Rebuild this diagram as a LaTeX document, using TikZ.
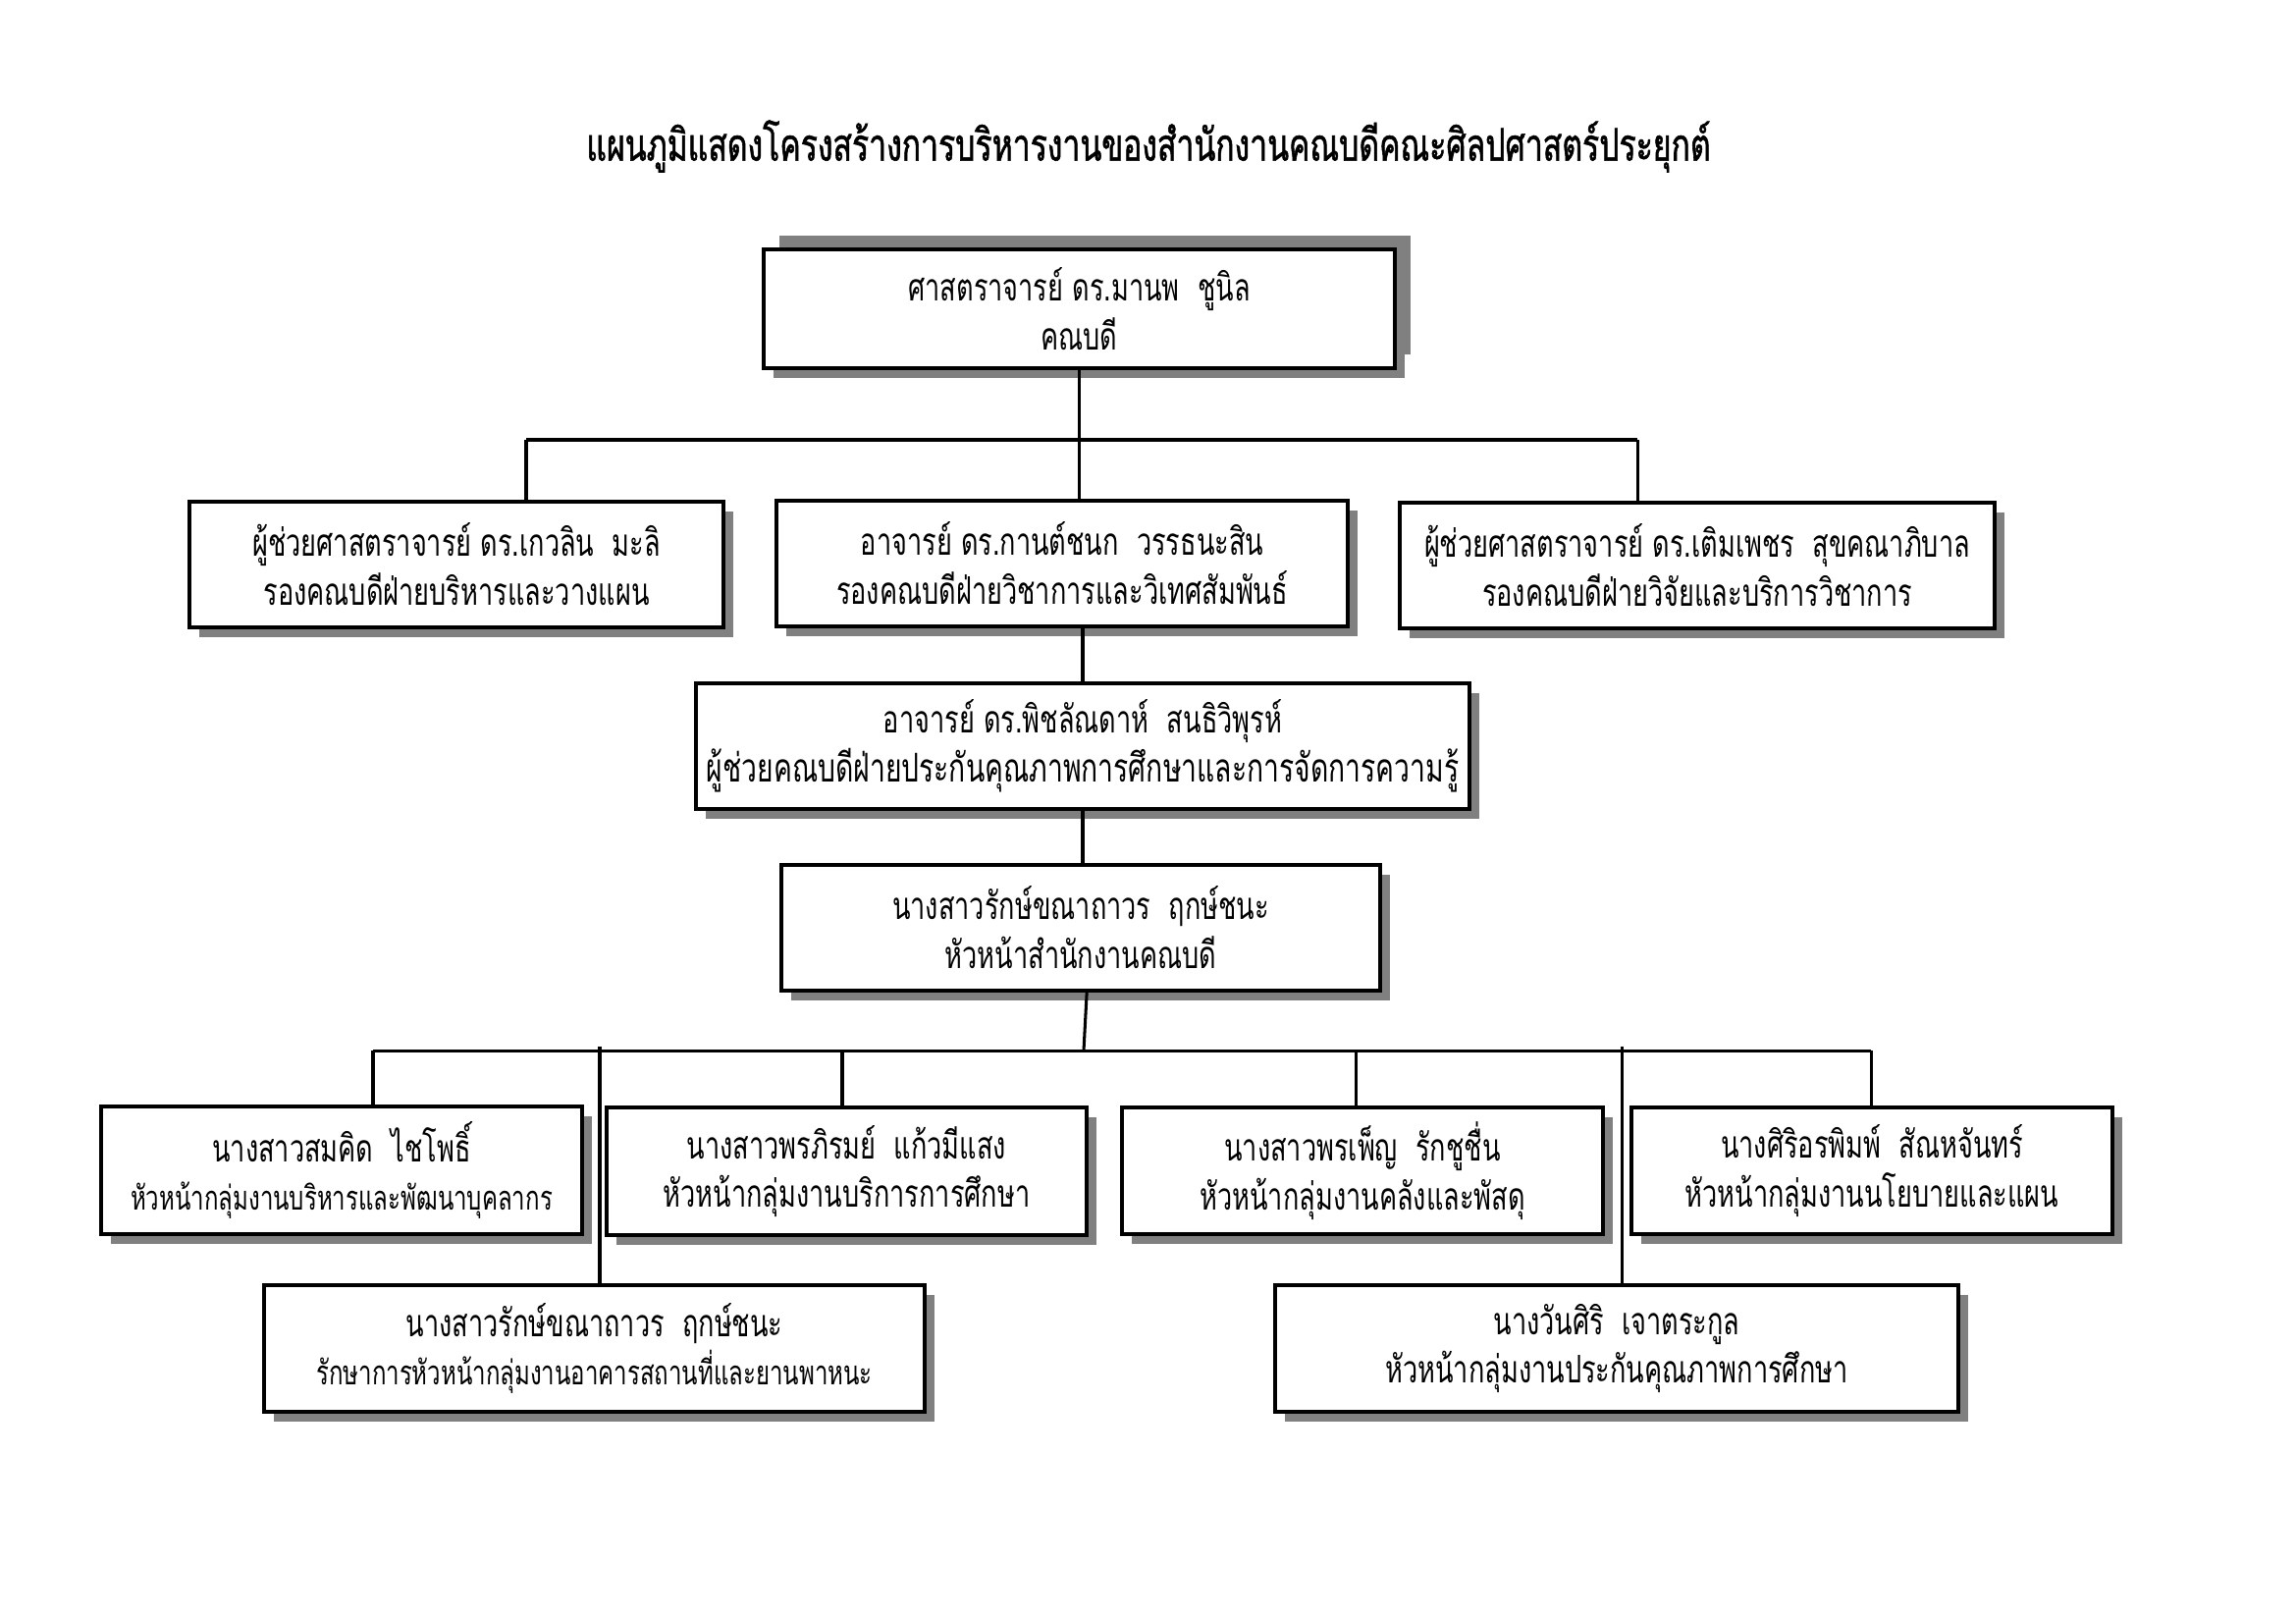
\documentclass[tikz,border=0pt]{standalone}
\usepackage{fontspec}
\newfontfamily\thai[Script=Thai,FakeStretch=0.7]{Loma}
\newfontfamily\thaib[Script=Thai,FakeStretch=0.7,FakeBold=1.2]{Loma}
\usetikzlibrary{shadows}
\tikzset{
  orgbox/.style n args={4}{draw, line width=1.3pt, fill=white, align=center,
    inner sep=0pt,
    minimum width=(#2-#1)*0.127mm, minimum height=(#4-#3)*0.127mm,
    font=\thai\fontsize{14}{18}\selectfont,
    drop shadow={shadow xshift=1.3mm, shadow yshift=-1.3mm, fill=black!50, opacity=1}},
  topbox/.style={drop shadow={shadow xshift=2mm, shadow yshift=1.8mm, fill=black!50, opacity=1}},
  conn/.style={line width=1.1pt}
}
\newcommand{\boxat}[5]{\node[orgbox={#1}{#2}{#3}{#4},#5] at ({(#1+#2)/2},{(#3+#4)/2})}
\newcommand{\fs}[1]{\fontsize{#1}{18}\selectfont}
\begin{document}
\begin{tikzpicture}[x=0.127mm,y=-0.127mm]
\useasboundingbox (0,0) rectangle (2339,1646);
\fill[white] (0,0) rectangle (2339,1646);
\node[font=\thaib\fontsize{16.5}{20}\selectfont] (title) at (1170,149) {แผนภูมิแสดงโครงสร้างการบริหารงานของสำนักงานคณบดีคณะศิลปศาสตร์ประยุกต์};

\coordinate (b1L) at (536,448);
\coordinate (b1R) at (1668,448);
\coordinate (b2L) at (380,1070);
\coordinate (b2R) at (1906,1070);

\boxat{778}{1421}{254}{375}{topbox} (A) {ศาสตราจารย์ ดร.มานพ~~ชูนิล\\คณบดี};
\boxat{193}{737}{511}{639}{} (B) {ผู้ช่วยศาสตราจารย์ ดร.เกวลิน~~มะลิ\\รองคณบดีฝ่ายบริหารและวางแผน};
\boxat{791}{1373}{510}{638}{} (C) {อาจารย์ ดร.กานต์ชนก~~วรรธนะสิน\\รองคณบดีฝ่ายวิชาการและวิเทศสัมพันธ์};
\boxat{1426}{2032}{512}{640}{} (D) {ผู้ช่วยศาสตราจารย์ ดร.เติมเพชร~~สุขคณาภิบาล\\รองคณบดีฝ่ายวิจัยและบริการวิชาการ};
\boxat{709}{1497}{696}{824}{} (E) {อาจารย์ ดร.พิชลัณดาห์~~สนธิวิพุรห์\\{\fs{14.6}ผู้ช่วยคณบดีฝ่ายประกันคุณภาพการศึกษาและการจัดการความรู้}};
\boxat{796}{1406}{881}{1009}{} (F) {นางสาวรักษ์ขณาถาวร~~ฤกษ์ชนะ\\หัวหน้าสำนักงานคณบดี};
\boxat{103}{593}{1127}{1257}{} (G) {นางสาวสมคิด~~ไชโพธิ์\\{\fs{12.4}หัวหน้ากลุ่มงานบริหารและพัฒนาบุคลากร}};
\boxat{618}{1107}{1128}{1258}{} (H) {นางสาวพรภิรมย์~~แก้วมีแสง\\หัวหน้ากลุ่มงานบริการการศึกษา};
\boxat{1143}{1633}{1128}{1257}{} (I) {นางสาวพรเพ็ญ~~รักชูชื่น\\หัวหน้ากลุ่มงานคลังและพัสดุ};
\boxat{1662}{2152}{1128}{1257}{} (J) {นางศิริอรพิมพ์~~สัณหจันทร์\\หัวหน้ากลุ่มงานนโยบายและแผน};
\boxat{269}{942}{1309}{1438}{} (K) {นางสาวรักษ์ขณาถาวร~~ฤกษ์ชนะ\\{\fs{12.4}รักษาการหัวหน้ากลุ่มงานอาคารสถานที่และยานพาหนะ}};
\boxat{1299}{1995}{1309}{1438}{} (L) {นางวันศิริ~~เจาตระกูล\\หัวหน้ากลุ่มงานประกันคุณภาพการศึกษา};

\draw[conn] (b1L) -- (b1R);
\draw[conn] (A.south) -- (A.south |- C.north);
\draw[conn] (b1L) -- (b1L |- B.north);
\draw[conn] (b1R) -- (b1R |- D.north);
\draw[conn] (E.north) -- (E.north |- C.south);
\draw[conn] (E.south) -- (E.south |- F.north);
\coordinate (fdrop) at (1104,1070);
\draw[conn] ([xshift=0.4mm]F.south -| fdrop) -- (fdrop);
\draw[conn] (b2L) -- (b2R);
\draw[conn] (b2L) -- (b2L |- G.north);
\draw[conn] (858,1070) coordinate (hd) -- (hd |- H.north);
\draw[conn] (1381,1070) coordinate (id) -- (id |- I.north);
\draw[conn] (b2R) -- (b2R |- J.north);
\draw[conn] (611,1066) coordinate (kd) -- (kd |- K.north);
\draw[conn] (1652,1066) coordinate (ld) -- (ld |- L.north);
\end{tikzpicture}
\end{document}
